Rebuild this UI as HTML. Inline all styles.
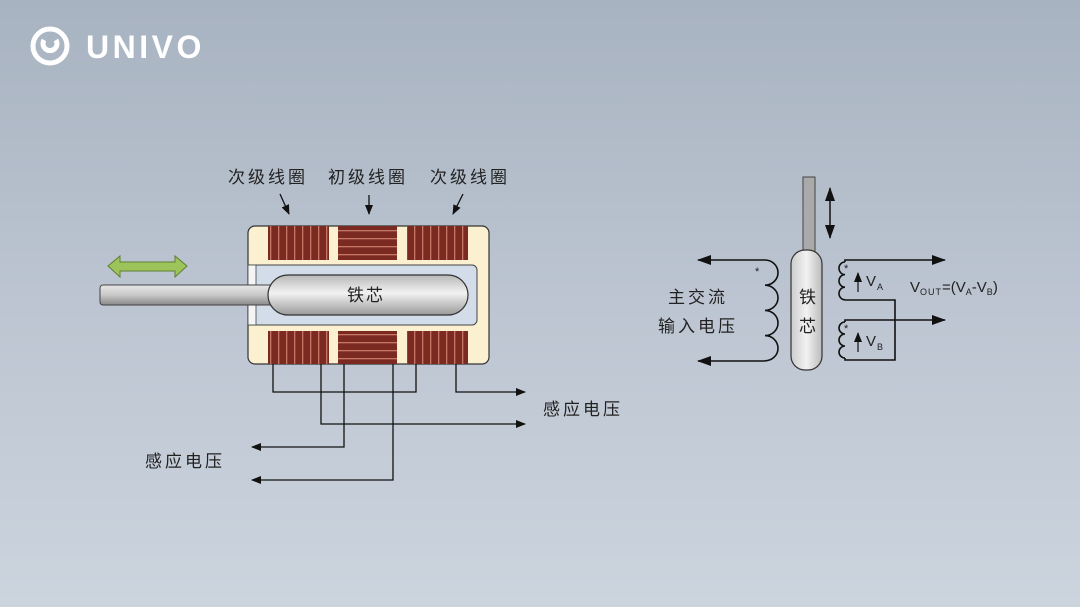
<!DOCTYPE html>
<html><head><meta charset="utf-8"><style>
html,body{margin:0;padding:0}
body{width:1080px;height:607px;overflow:hidden;background:linear-gradient(180deg,#a8b3c1 0%,#bcc5d1 50%,#ccd4de 100%);}
svg{display:block}
text{font-family:"Liberation Sans","Noto Sans CJK SC",sans-serif;}
</style></head><body>
<svg width="1080" height="607" viewBox="0 0 1080 607" xmlns="http://www.w3.org/2000/svg">
<defs>
<marker id="ar" markerWidth="10" markerHeight="8" refX="9" refY="4" orient="auto" markerUnits="userSpaceOnUse"><path d="M0,0 L10,4 L0,8 Z" fill="#111"/></marker>
<marker id="arl" markerWidth="14" markerHeight="10" refX="13" refY="5" orient="auto-start-reverse" markerUnits="userSpaceOnUse"><path d="M0,0 L14,5 L0,10 Z" fill="#111"/></marker>
<linearGradient id="rod" x1="0" y1="0" x2="0" y2="1"><stop offset="0" stop-color="#e8e8e8"/><stop offset="0.5" stop-color="#c8c8c8"/><stop offset="1" stop-color="#888"/></linearGradient>
<linearGradient id="core" x1="0" y1="0" x2="0" y2="1"><stop offset="0" stop-color="#b8b8b8"/><stop offset="0.45" stop-color="#f2f2f2"/><stop offset="1" stop-color="#9a9a9a"/></linearGradient>
<linearGradient id="vcore" x1="0" y1="0" x2="1" y2="0"><stop offset="0" stop-color="#ccc"/><stop offset="0.5" stop-color="#f2f2f2"/><stop offset="1" stop-color="#bbb"/></linearGradient>
<pattern id="vs" width="8" height="10" patternUnits="userSpaceOnUse"><rect width="8" height="10" fill="#7b2a22"/><rect x="6" width="1.3" height="10" fill="#c57766"/></pattern>
<pattern id="hs" width="10" height="8" patternUnits="userSpaceOnUse"><rect width="10" height="8" fill="#7b2a22"/><rect y="6" width="10" height="1.3" fill="#c57766"/></pattern>
</defs>
<!-- logo -->
<circle cx="50" cy="46" r="17" fill="none" stroke="#fff" stroke-width="5"/>
<path d="M44,40 a7,7 0 1 0 12,0" fill="none" stroke="#fff" stroke-width="5"/>
<text x="86" y="58" font-size="32" font-weight="bold" fill="#fff" letter-spacing="3.5">UNIVO</text>

<!-- left diagram labels -->
<g font-size="17" fill="#222" letter-spacing="3">
<text x="228" y="183">次级线圈</text>
<text x="328" y="183">初级线圈</text>
<text x="430" y="183">次级线圈</text>
<text x="145" y="467">感应电压</text>
<text x="543" y="415">感应电压</text>
</g>
<g stroke="#111" stroke-width="1.3" fill="none">
<line x1="280" y1="194" x2="289" y2="214" marker-end="url(#ar)"/>
<line x1="369" y1="195" x2="369" y2="214" marker-end="url(#ar)"/>
<line x1="463" y1="194" x2="453" y2="214" marker-end="url(#ar)"/>
</g>
<!-- body -->
<rect x="248" y="226" width="241" height="138" rx="7" fill="#fbf0d0" stroke="#333" stroke-width="1.2"/>
<rect x="268" y="226" width="61" height="34" fill="url(#vs)"/>
<rect x="338" y="226" width="59" height="34" fill="url(#hs)"/>
<rect x="407" y="226" width="61" height="34" fill="url(#vs)"/>
<rect x="268" y="331" width="61" height="33" fill="url(#vs)"/>
<rect x="338" y="331" width="59" height="33" fill="url(#hs)"/>
<rect x="407" y="331" width="61" height="33" fill="url(#vs)"/>
<path d="M248,265 H472 a5,5 0 0 1 5,5 V320 a5,5 0 0 1 -5,5 H248 Z" fill="#d3dde9" stroke="#444" stroke-width="1"/>
<rect x="248" y="265" width="8" height="60" fill="#f5f5f5" stroke="#444" stroke-width="0.8"/>
<rect x="100" y="285" width="175" height="20" rx="3" fill="url(#rod)" stroke="#444" stroke-width="1"/>
<rect x="268" y="275" width="200" height="40" rx="20" fill="url(#core)" stroke="#333" stroke-width="1.2"/>
<text x="347" y="301" font-size="17" fill="#222" letter-spacing="2">铁芯</text>
<!-- green arrow -->
<path d="M108,266 L120,256 L120,262 L175,262 L175,256 L187,266 L175,277 L175,271 L120,271 L120,277 Z" fill="#9cc45a" stroke="#5f7f30" stroke-width="1"/>
<!-- wires -->
<g stroke="#111" stroke-width="1.3" fill="none">
<polyline points="273,364 273,392 416,392 416,364"/>
<polyline points="456,364 456,392 525,392" marker-end="url(#ar)"/>
<polyline points="321,364 321,424 525,424" marker-end="url(#ar)"/>
<polyline points="344,364 344,447 252,447" marker-end="url(#ar)"/>
<polyline points="393,364 393,480 252,480" marker-end="url(#ar)"/>
</g>

<!-- right diagram -->
<rect x="803" y="177" width="12" height="75" fill="#aaa" stroke="#444" stroke-width="1"/>
<rect x="791" y="250" width="31" height="120" rx="14" fill="url(#vcore)" stroke="#333" stroke-width="1.2"/>
<text x="799" y="303" font-size="17" fill="#222">铁</text>
<text x="799" y="332" font-size="17" fill="#222">芯</text>
<line x1="830" y1="188" x2="830" y2="238" stroke="#111" stroke-width="1.5" marker-start="url(#arl)" marker-end="url(#arl)"/>
<g stroke="#111" stroke-width="1.6" fill="none">
<path d="M765,260 H698" marker-end="url(#arl)"/>
<path d="M765,361 H698" marker-end="url(#arl)"/>
<path d="M765,260 a13,12.6 0 0 1 0,25.2 a13,12.6 0 0 1 0,25.2 a13,12.6 0 0 1 0,25.2 a13,12.6 0 0 1 0,25.2"/>
<path d="M845,262 a6,6.3 0 0 0 0,12.6 a6,6.3 0 0 0 0,12.6 a6,6.3 0 0 0 0,12.6"/>
<path d="M845,322 a6,6 0 0 0 0,12 a6,6 0 0 0 0,12 a6,6 0 0 0 0,12"/>
<path d="M845,262 V260 H945" marker-end="url(#arl)"/>
<path d="M845,300 H895 V360 H845 V358"/>
<path d="M845,322 V320 H945" marker-end="url(#arl)"/>
<path d="M858,292 V273" stroke-width="1.2" marker-end="url(#ar)"/>
<path d="M858,352 V333" stroke-width="1.2" marker-end="url(#ar)"/>
</g>
<g fill="#222">
<text x="755" y="275" font-size="11">*</text>
<text x="844" y="272" font-size="11">*</text>
<text x="844" y="332" font-size="11">*</text>
<text x="866" y="286" font-size="15">V</text><text x="877" y="290" font-size="9">A</text>
<text x="866" y="346" font-size="15">V</text><text x="877" y="350" font-size="9">B</text>
<text x="910" y="292" font-size="15">V<tspan font-size="9" dy="3" letter-spacing="1">OUT</tspan><tspan dy="-3">=(V</tspan><tspan font-size="9" dy="3">A</tspan><tspan dy="-3">-V</tspan><tspan font-size="9" dy="3">B</tspan><tspan dy="-3">)</tspan></text>
<g letter-spacing="3"><text x="668" y="303" font-size="17">主交流</text>
<text x="658" y="332" font-size="17">输入电压</text></g>
</g>
</svg>
</body></html>
